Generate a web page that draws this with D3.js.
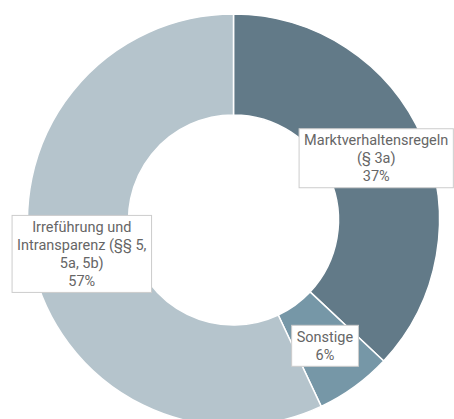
<!DOCTYPE html>
<html>
<head>
  <meta charset="utf-8">
  <script src="https://cdn.jsdelivr.net/npm/d3@7/dist/d3.min.js"></script>
  <style>
    body { margin: 0; background: #fff; }
    text { font-family: Roboto, sans-serif; }
  </style>
</head>
<body>
<script>
  let categories = ['Marktverhaltensregeln (§ 3a)', 'Sonstige', 'Irreführung und Intransparenz (§§ 5, 5a, 5b)'];
  let values = [37, 6, 57];
  let colors = ['#627a88', '#7697a7', '#b5c4cc'];

  let width = 454;
  let height = 419;
  let cx = 233.5, cy = 220;
  let outer = 206, inner = 105;

  let svg = d3.select('body').append('svg')
    .attr('width', width)
    .attr('height', height);

  let g = svg.append('g').attr('transform', `translate(${cx},${cy})`);

  let pie = d3.pie().sort(null).value(d => d.value);
  let arcs = pie(categories.map((c, i) => ({name: c, value: values[i], color: colors[i]})));

  let arc = d3.arc().innerRadius(inner).outerRadius(outer);

  g.selectAll('path').data(arcs).enter()
    .append('path')
    .attr('d', arc)
    .attr('fill', d => d.data.color)
    .attr('stroke', '#fff')
    .attr('stroke-width', 1.5);

  let fs = 14.5;

  // wrap words into lines no wider than maxW
  function wrap(label, maxW, meas) {
    let words = label.split(' ');
    let lines = [];
    let cur = '';
    words.forEach(w => {
      let test = cur ? cur + ' ' + w : w;
      meas.text(test);
      if (cur && meas.node().getComputedTextLength() > maxW) {
        lines.push(cur);
        cur = w;
      } else {
        cur = test;
      }
    });
    if (cur) lines.push(cur);
    return lines;
  }

  let meas = svg.append('text').attr('font-size', fs).attr('visibility', 'hidden');
  let lineH = 18;

  arcs.forEach(d => {
    let c = arc.centroid(d);
    let lines = wrap(d.data.name, 146, meas);
    lines.push(d.data.value + '%');
    let lg = g.append('g').attr('transform', `translate(${c[0]},${c[1]})`);
    let t = lg.append('text')
      .attr('font-size', fs)
      .attr('fill', '#666')
      .attr('text-anchor', 'middle');
    let y0 = -(lines.length - 1) * lineH / 2;
    lines.forEach((l, i) => {
      t.append('tspan')
        .attr('x', 0)
        .attr('y', y0 + i * lineH)
        .attr('dy', '0.35em')
        .text(l);
    });
    let bb = t.node().getBBox();
    lg.insert('rect', 'text')
      .attr('x', bb.x - 5)
      .attr('y', -lines.length * lineH / 2 - 2.5)
      .attr('width', bb.width + 10)
      .attr('height', lines.length * lineH + 5)
      .attr('fill', '#fff')
      .attr('stroke', '#ccc')
      .attr('stroke-width', 1);
  });
  meas.remove();
</script>
</body>
</html>
